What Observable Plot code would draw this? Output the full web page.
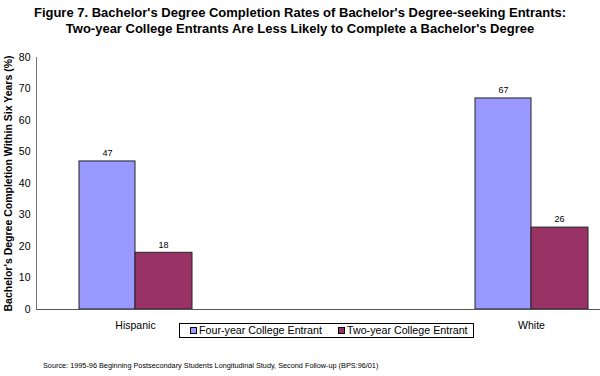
<!DOCTYPE html>
<html><head><meta charset="utf-8">
<script src="https://cdn.jsdelivr.net/npm/d3@7"></script>
<script src="https://cdn.jsdelivr.net/npm/@observablehq/plot@0.6"></script>
<style>
body{margin:0;background:#fff;width:600px;height:376px;position:relative;overflow:hidden;font-family:"Liberation Sans",Arial,sans-serif;color:#000}
#title{position:absolute;left:0;top:5px;width:600px;text-align:center;font-family:"Liberation Sans Narrow","Liberation Sans",Arial,sans-serif;font-weight:bold;font-size:13px;line-height:16px}
#chart{position:absolute;left:0;top:42px}
#legend{position:absolute;left:179px;top:323px;width:295px;height:15px;border:1px solid #000;box-sizing:border-box;font-size:10.7px;line-height:13px;white-space:nowrap}
#legend span.item{position:absolute;top:0}
#legend i{display:inline-block;width:7px;height:7px;border:1px solid #000;box-sizing:border-box;margin-right:2px;vertical-align:0px}
#source{position:absolute;left:43px;top:361px;font-size:7.3px;white-space:nowrap}
</style></head>
<body>
<div id="title"></div>
<div id="chart"></div>
<div id="legend"></div>
<div id="source"></div>
<script>
const titleLines = ["Figure 7. Bachelor's Degree Completion Rates of Bachelor's Degree-seeking Entrants:",
  "Two-year College Entrants Are Less Likely to Complete a Bachelor's Degree"];
const categories = ["Hispanic", "White"];
const seriesNames = ["Four-year College Entrant", "Two-year College Entrant"];
const fourYear = [47, 67];
const twoYear = [18, 26];
const yTicks = [0, 10, 20, 30, 40, 50, 60, 70, 80];
const yLabel = "Bachelor's Degree Completion Within Six Years (%)";
const sourceText = "Source: 1995-96 Beginning Postsecondary Students Longitudinal Study, Second Follow-up (BPS:96/01)";
const colors = ["#9999FF", "#993366"];

document.getElementById("title").innerHTML = titleLines.join("<br>");
document.getElementById("source").textContent = sourceText;

const data = [];
categories.forEach((c, i) => {
  data.push({group: c, series: seriesNames[0], value: fourYear[i]});
  data.push({group: c, series: seriesNames[1], value: twoYear[i]});
});
const d4 = data.filter(d => d.series === seriesNames[0]);
const d2 = data.filter(d => d.series === seriesNames[1]);

const chart = Plot.plot({
  width: 600,
  height: 300,
  marginTop: 15,
  marginBottom: 33,
  marginLeft: 36,
  marginRight: 0,
  style: {fontFamily: '"Liberation Sans", Arial, sans-serif', fontSize: "10px", color: "#000", background: "#fff"},
  x: {type: "band", domain: categories, range: [-63, 729], padding: 0, label: null},
  y: {domain: [0, 80], ticks: yTicks, label: null},
  color: {domain: seriesNames, range: colors},
  marks: [
    Plot.barY(d4, {x: "group", y: "value", fill: "series", stroke: "#222", strokeWidth: 1, insetLeft: 142, insetRight: 198}),
    Plot.barY(d2, {x: "group", y: "value", fill: "series", stroke: "#222", strokeWidth: 1, insetLeft: 198, insetRight: 141}),
    Plot.text(d4, {x: "group", y: "value", text: d => String(d.value), dx: -28, dy: -8, fontSize: 9}),
    Plot.text(d2, {x: "group", y: "value", text: d => String(d.value), dx: 28, dy: -8, fontSize: 9}),
    Plot.axisX({tickSize: 0, tickPadding: 12, fontSize: 10.5}),
    Plot.axisY({ticks: yTicks, tickSize: 0, tickPadding: 6, fontSize: 10.5, label: null}),
    Plot.axisY({ticks: [], tickSize: 0, label: yLabel, labelAnchor: "center", labelArrow: "none", labelOffset: 32, fontSize: 10.5, fontWeight: "bold"}),
    Plot.frame({anchor: "left", stroke: "#777"}),
    Plot.ruleY([0], {stroke: "#555"})
  ]
});
document.getElementById("chart").appendChild(chart);

const legend = document.getElementById("legend");
const lx = [10, 158];
seriesNames.forEach((s, i) => {
  const span = document.createElement("span");
  span.className = "item";
  span.style.left = lx[i] + "px";
  span.innerHTML = `<i style="background:${colors[i]}"></i>${s}`;
  legend.appendChild(span);
});
</script>
</body></html>
